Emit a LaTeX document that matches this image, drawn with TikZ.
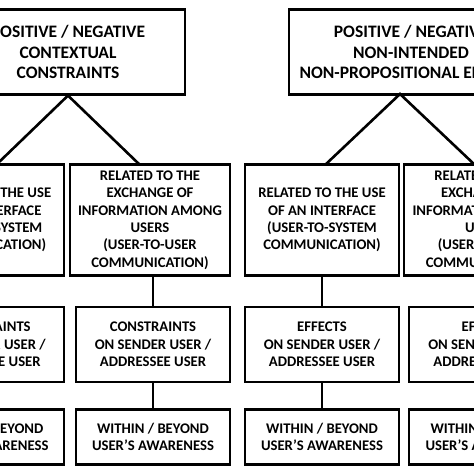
\documentclass[tikz,border=0pt]{standalone}
\usepackage{fontspec}
\setmainfont{Carlito}
\begin{document}
\begin{tikzpicture}[x=1pt,y=-1pt,
  box/.style={draw=black, line width=2.6pt, rectangle, inner sep=0pt, align=center,
    font=\bfseries\fontsize{14.7}{17.4}\selectfont},
  topbox/.style={box, font=\bfseries\fontsize{17.5}{20.5}\selectfont},
  conn/.style={draw=black, line width=2.6pt}]
\useasboundingbox (0,0) rectangle (474,474);
\clip (0,0) rectangle (474,474);
\fill[white] (0,0) rectangle (474,474);
% top row
\node[topbox, minimum width=234pt, minimum height=84.5pt] (TL) at (68,52) {POSITIVE / NEGATIVE\\CONTEXTUAL\\CONSTRAINTS};
\node[topbox, minimum width=244pt, minimum height=84.5pt] (TR) at (411,52) {POSITIVE / NEGATIVE\\NON-INTENDED\\NON-PROPOSITIONAL EFFECTS};
% second row
\node[box, minimum width=153pt, minimum height=110.5pt] (A1) at (-12.5,220) {RELATED TO THE USE\\OF AN INTERFACE\\(USER-TO-SYSTEM\\COMMUNICATION)};
\node[box, minimum width=160pt, minimum height=110.5pt] (B1) at (150,220) {RELATED TO THE\\EXCHANGE OF\\INFORMATION AMONG\\USERS\\(USER-TO-USER\\COMMUNICATION)};
\node[box, minimum width=154pt, minimum height=110.5pt] (A2) at (322,220) {RELATED TO THE USE\\OF AN INTERFACE\\(USER-TO-SYSTEM\\COMMUNICATION)};
\node[box, minimum width=161pt, minimum height=110.5pt] (D2) at (484.5,220) {RELATED TO THE\\EXCHANGE OF\\INFORMATION AMONG\\USERS\\(USER-TO-USER\\COMMUNICATION)};
% third row
\node[box, minimum width=153pt, minimum height=75pt] (A1c) at (-12.5,344.5) {CONSTRAINTS\\ON SENDER USER /\\ADDRESSEE USER};
\node[box, minimum width=154pt, minimum height=75pt] (B1c) at (153,344.5) {CONSTRAINTS\\ON SENDER USER /\\ADDRESSEE USER};
\node[box, minimum width=154pt, minimum height=75pt] (A2e) at (322,344.5) {EFFECTS\\ON SENDER USER /\\ADDRESSEE USER};
\node[box, minimum width=155pt, minimum height=75pt] (D2e) at (486.5,344.5) {EFFECTS\\ON SENDER USER /\\ADDRESSEE USER};
% fourth row
\node[box, minimum width=153pt, minimum height=54.5pt] (A1w) at (-12.5,437) {WITHIN / BEYOND\\USER’S AWARENESS};
\node[box, minimum width=154pt, minimum height=54.5pt] (B1w) at (153,437) {WITHIN / BEYOND\\USER’S AWARENESS};
\node[box, minimum width=154pt, minimum height=54.5pt] (A2w) at (322,437) {WITHIN / BEYOND\\USER’S AWARENESS};
\node[box, minimum width=155pt, minimum height=54.5pt] (D2w) at (486.5,437) {WITHIN / BEYOND\\USER’S AWARENESS};
% connector joints
\coordinate (apexR) at (400,94);
\coordinate (jA1) at (-4,165);
\coordinate (jB1) at (140,165);
\coordinate (jA2) at (325,165);
\coordinate (jD2) at (475,165);
\draw[conn] (jA1) -- (TL.south) -- (jB1);
\draw[conn] (jA2) -- (apexR) -- (jD2);
\draw[conn] (B1c.north) -- (B1c.north |- B1.south);
\draw[conn] (B1c.south) -- (B1w.north);
\draw[conn] (A2e.north) -- (A2e.north |- A2.south);
\draw[conn] (A2e.south) -- (A2w.north);
\end{tikzpicture}
\end{document}
